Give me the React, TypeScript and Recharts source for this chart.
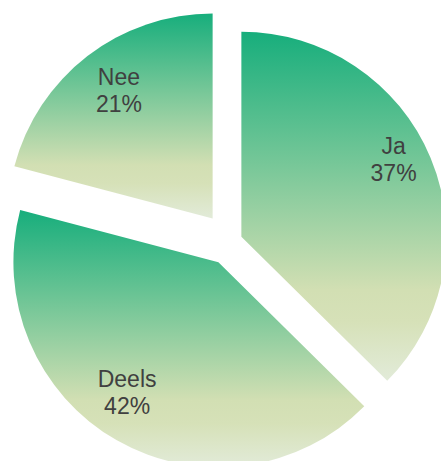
import React from "react";
import { PieChart, Pie, Cell, Sector } from "recharts";

const categories = ["Ja", "Deels", "Nee"];
const values = [37.4, 41.7, 20.9];

const data = categories.map((name, i) => ({ name, value: values[i] }));

// explode distance per slice (style)
const EXPLODE: Record<string, number> = { Ja: 12, Deels: 24, Nee: 29 };
// label nudges (style)
const LABEL_R: Record<string, number> = { Ja: 165, Deels: 160, Nee: 160 };
const LABEL_NUDGE: Record<string, [number, number]> = {
  Ja: [0, -14],
  Deels: [-12, -9],
  Nee: [4, -2],
};

const RAD = Math.PI / 180;

const renderShape = (props: any) => {
  const { cx, cy, midAngle, name } = props;
  const d = EXPLODE[name] ?? 0;
  const dx = Math.cos(midAngle * RAD) * d;
  const dy = -Math.sin(midAngle * RAD) * d;
  return <Sector {...props} cx={cx + dx} cy={cy + dy} stroke="none" />;
};

const renderLabel = (props: any) => {
  const { cx, cy, midAngle, name, percent } = props;
  const d = EXPLODE[name] ?? 0;
  const r = LABEL_R[name] ?? 160;
  const [nx, ny] = LABEL_NUDGE[name] ?? [0, 0];
  const x = cx + Math.cos(midAngle * RAD) * (d + r) + nx;
  const y = cy - Math.sin(midAngle * RAD) * (d + r) + ny;
  return (
    <text
      x={x}
      y={y}
      textAnchor="middle"
      fill="#404040"
      fontFamily="'Liberation Sans', Arial, sans-serif"
      fontSize={23}
    >
      <tspan x={x} y={y - 5}>{name}</tspan>
      <tspan x={x} y={y + 22}>{`${Math.round(percent * 100)}%`}</tspan>
    </text>
  );
};

export default function App() {
  return (
    <div
      style={{
        position: "fixed",
        left: 0,
        top: 0,
        width: 441,
        height: 461,
        overflow: "hidden",
        background: "#ffffff",
      }}
    >
      <PieChart width={441} height={461} margin={{ top: 0, right: 0, bottom: 0, left: 0 }}>
        <defs>
          <linearGradient id="sliceGrad" x1="0" y1="0" x2="0" y2="1">
            <stop offset="0" stopColor="#17ae7c" />
            <stop offset="0.74" stopColor="#d2dfb3" />
            <stop offset="0.83" stopColor="#d6e1b8" />
            <stop offset="1" stopColor="#e2ebd9" />
          </linearGradient>
        </defs>
        <Pie
          data={data}
          dataKey="value"
          nameKey="name"
          cx={230.3}
          cy={241.4}
          innerRadius={0}
          outerRadius={205}
          startAngle={90}
          endAngle={-270}
          stroke="none"
          isAnimationActive={false}
          shape={renderShape}
          label={renderLabel}
          labelLine={false}
        >
          {data.map((entry) => (
            <Cell key={entry.name} fill="url(#sliceGrad)" />
          ))}
        </Pie>
      </PieChart>
    </div>
  );
}
